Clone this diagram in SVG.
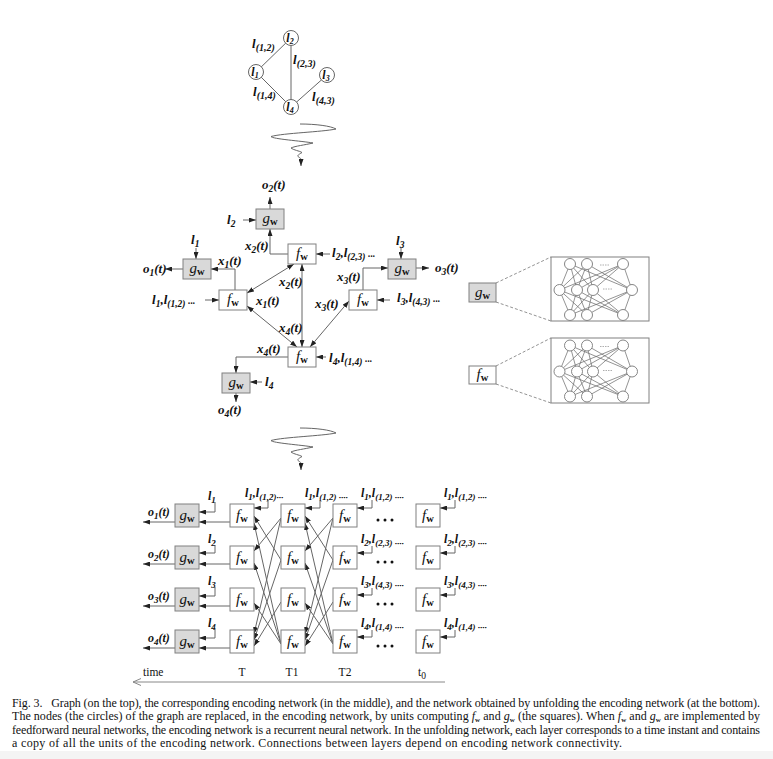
<svg xmlns="http://www.w3.org/2000/svg" width="773" height="759" viewBox="0 0 773 759">
<style>
text{font-family:"Liberation Serif","Times New Roman",serif;fill:#111}
.lb{font-size:13px;font-weight:bold;font-style:italic}
.lbs{font-size:12px;font-weight:bold;font-style:italic}
.lt{font-size:13px;font-weight:bold;font-style:italic}
.cl{font-size:12px;font-weight:bold;font-style:italic;text-anchor:middle}
.s{font-size:9.5px}
.s7{font-size:8px}
.sb{font-size:9px}
.s9{font-size:10px}
.fn{font-size:15px;font-style:italic;text-anchor:middle}
.w{font-size:10.5px;font-weight:bold;font-style:normal}
.rm{font-size:11.5px}
.cap{font-size:12px}
.cw{font-size:7px;font-weight:bold}
.box{stroke:#808080;stroke-width:1;fill:#fff}
.gbox{stroke:#808080;stroke-width:1;fill:#d9d9d9}
.circ{stroke:#666;stroke-width:1;fill:#fff}
.ln{fill:none;stroke:#666;stroke-width:1}
.ar{marker-end:url(#a)}
.dar{marker-start:url(#a);marker-end:url(#a)}
.dash{fill:none;stroke:#777;stroke-width:0.8;stroke-dasharray:3 2}
.nc{fill:#fff;stroke:#777;stroke-width:0.9}
.nl{fill:none;stroke:#666;stroke-width:0.7}
</style>
<defs>
<marker id="a" viewBox="0 0 7 5" refX="7" refY="2.5" markerWidth="7" markerHeight="5" markerUnits="userSpaceOnUse" orient="auto-start-reverse"><path d="M0,0L7,2.5L0,5z" fill="#222"/></marker>
<g id="nn">
<path class="nl" d="M19 7L8.5 33M19 7L26 33M19 7L42 33M19 7L81 33M36 7L8.5 33M36 7L26 33M36 7L42 33M36 7L81 33M72 7L8.5 33M72 7L26 33M72 7L42 33M72 7L81 33M19 58L8.5 33M19 58L26 33M19 58L42 33M19 58L81 33M36 58L8.5 33M36 58L26 33M36 58L42 33M36 58L81 33M72 58L8.5 33M72 58L26 33M72 58L42 33M72 58L81 33"/>
<circle class="nc" cx="19" cy="7" r="5.5"/><circle class="nc" cx="36" cy="7" r="5.5"/><circle class="nc" cx="72" cy="7" r="5.5"/>
<circle class="nc" cx="8.5" cy="33" r="5.5"/><circle class="nc" cx="26" cy="33" r="5.5"/><circle class="nc" cx="42" cy="33" r="5.5"/><circle class="nc" cx="81" cy="33" r="5.5"/>
<circle class="nc" cx="19" cy="58" r="5.5"/><circle class="nc" cx="36" cy="58" r="5.5"/><circle class="nc" cx="72" cy="58" r="5.5"/>
<path d="M49 8H59M52 32H62" stroke="#999" stroke-width="0.8" stroke-dasharray="1.5 1"/>
</g>
<path id="sq" d="M300,124 C316,124 331,126 336,129 C322,132 284,133 271,136.5 C272,139 302,141 313,143 C305,145 295,146 291,148 C293,150 300,151 302,152.5 C300,154 297,155 298,156.5 C300,158 302,159 301,160.5 L301,166"/>
</defs>
<rect width="773" height="759" fill="#fff"/>
<rect y="751" width="773" height="8" fill="#f4f4f4"/>

<g id="connectors">
<g id="graph-edges" class="ln">
<path d="M256,72L291,38M291,38V107M256,72L291,107M291,107L327,75"/>
</g>
<use href="#sq" class="ln ar"/>
<use href="#sq" class="ln ar" y="304"/>

<path class="ln ar" d="M270,209V197"/>
<path class="ln ar" d="M243,220H256"/>
<path class="ln ar" d="M288,254H270V229"/>
<path class="ln ar" d="M196,248V259"/>
<path class="ln ar" d="M183,269H165"/>
<path class="ln ar" d="M235,290V269H211"/>
<path class="ln ar" d="M205,300H219"/>
<path class="ln dar" d="M247,293L294,264"/>
<path class="ln dar" d="M247,306L297,347"/>
<path class="ln dar" d="M302,264V347"/>
<path class="ln dar" d="M349,301L310,347"/>
<path class="ln ar" d="M330,254H316"/>
<path class="ln ar" d="M401,247V259"/>
<path class="ln ar" d="M416,268H429"/>
<path class="ln ar" d="M363,290V268H388"/>
<path class="ln ar" d="M390,300H377"/>
<path class="ln ar" d="M288,357H236V373"/>
<path class="ln ar" d="M326,357H316"/>
<path class="ln ar" d="M262,382H250"/>
<path class="ln ar" d="M236,393V402"/>
<path class="dash" d="M496,283L551,257M496,302L551,321M496,366L551,338M496,384L551,403"/>

<g class="ln ar">
<path d="M215,502V512H199"/><path d="M215,545V553H199"/><path d="M215,587V596H199"/><path d="M215,629V638H199"/>
<path d="M230,522H199"/><path d="M230,564H199"/><path d="M230,606H199"/><path d="M230,648H199"/>
<path d="M175,522H143"/><path d="M175,564H143"/><path d="M175,606H143"/><path d="M175,648H143"/>
<path d="M268,500V508H254"/><path d="M320,500V508H305"/>
<path d="M372,500V508H357"/><path d="M372,546V553H357"/><path d="M372,588V595H357"/><path d="M372,630V637H357"/>
<path d="M455,500V508H440"/><path d="M455,546V553H440"/><path d="M455,588V595H440"/><path d="M455,630V637H440"/>
<path d="M281,560L254,516"/><path d="M281,644L254,523"/><path d="M281,518L254,551"/><path d="M281,644L254,563"/>
<path d="M281,644L254,603"/><path d="M281,518L254,634"/><path d="M281,560L254,640"/><path d="M281,602L254,646"/>
<path d="M333,560L305,516"/><path d="M333,644L305,523"/><path d="M333,518L305,551"/><path d="M333,644L305,563"/>
<path d="M333,644L305,603"/><path d="M333,518L305,634"/><path d="M333,560L305,640"/><path d="M333,602L305,646"/>
</g>
<path d="M133,682H445M141,678.5L133,682L141,685.5" fill="none" stroke="#888" stroke-width="1"/>
</g>

<g id="n1"><circle class="circ" cx="256" cy="72" r="7.5"/><text class="cl" x="255" y="76">l<tspan class="s7" dy="2">1</tspan></text></g>
<g id="n2"><circle class="circ" cx="291" cy="38" r="7.5"/><text class="cl" x="290" y="42">l<tspan class="s7" dy="2">2</tspan></text></g>
<g id="n3"><circle class="circ" cx="327" cy="75" r="7.5"/><text class="cl" x="326" y="79">l<tspan class="s7" dy="2">3</tspan></text></g>
<g id="n4"><circle class="circ" cx="291" cy="107" r="7.5"/><text class="cl" x="290" y="111">l<tspan class="s7" dy="2">4</tspan></text></g>
<g id="graph-labels">
<text class="lt" x="252" y="48">l<tspan class="s9" dy="3">(1,2)</tspan></text>
<text class="lt" x="293" y="64">l<tspan class="s9" dy="3">(2,3)</tspan></text>
<text class="lt" x="253" y="96">l<tspan class="s9" dy="3">(1,4)</tspan></text>
<text class="lt" x="312" y="101">l<tspan class="s9" dy="3">(4,3)</tspan></text>
</g>

<g id="gw2"><rect class="gbox" x="256" y="209" width="28" height="20"/><text class="fn" x="270" y="223">g<tspan class="w" dy="2">w</tspan></text></g>
<g id="fw2"><rect class="box" x="288" y="244" width="28" height="20"/><text class="fn" x="302" y="258">f<tspan class="w" dy="2">w</tspan></text></g>
<g id="gw1"><rect class="gbox" x="183" y="259" width="28" height="20"/><text class="fn" x="197" y="273">g<tspan class="w" dy="2">w</tspan></text></g>
<g id="fw1"><rect class="box" x="219" y="290" width="28" height="20"/><text class="fn" x="233" y="304">f<tspan class="w" dy="2">w</tspan></text></g>
<g id="gw3"><rect class="gbox" x="388" y="259" width="28" height="20"/><text class="fn" x="402" y="273">g<tspan class="w" dy="2">w</tspan></text></g>
<g id="fw3"><rect class="box" x="349" y="290" width="28" height="20"/><text class="fn" x="363" y="304">f<tspan class="w" dy="2">w</tspan></text></g>
<g id="fw4"><rect class="box" x="288" y="347" width="28" height="20"/><text class="fn" x="302" y="361">f<tspan class="w" dy="2">w</tspan></text></g>
<g id="gw4"><rect class="gbox" x="222" y="373" width="28" height="20"/><text class="fn" x="236" y="387">g<tspan class="w" dy="2">w</tspan></text></g>
<g id="enc-labels">
<text class="lb" x="262" y="189">o<tspan class="s" dy="3">2</tspan><tspan dy="-3">(t)</tspan></text>
<text class="lb" x="227" y="224">l<tspan class="s" dy="3">2</tspan></text>
<text class="lb" x="245" y="250">x<tspan class="s" dy="3">2</tspan><tspan dy="-3">(t)</tspan></text>
<text class="lb" x="191" y="244">l<tspan class="s" dy="3">1</tspan></text>
<text class="lb" x="143" y="273">o<tspan class="s" dy="3">1</tspan><tspan dy="-3">(t)</tspan></text>
<text class="lb" x="218" y="265">x<tspan class="s" dy="3">1</tspan><tspan dy="-3">(t)</tspan></text>
<text class="lb" x="152" y="304">l<tspan class="s" dy="3">1</tspan><tspan dy="-3">,l</tspan><tspan class="s" dy="3">(1,2) ···</tspan></text>
<text class="lb" x="256" y="305">x<tspan class="s" dy="3">1</tspan><tspan dy="-3">(t)</tspan></text>
<text class="lb" x="279" y="286">x<tspan class="s" dy="3">2</tspan><tspan dy="-3">(t)</tspan></text>
<text class="lb" x="279" y="332">x<tspan class="s" dy="3">4</tspan><tspan dy="-3">(t)</tspan></text>
<text class="lb" x="315" y="308">x<tspan class="s" dy="3">3</tspan><tspan dy="-3">(t)</tspan></text>
<text class="lb" x="332" y="257">l<tspan class="s" dy="3">2</tspan><tspan dy="-3">,l</tspan><tspan class="s" dy="3">(2,3) ···</tspan></text>
<text class="lb" x="396" y="245">l<tspan class="s" dy="3">3</tspan></text>
<text class="lb" x="435" y="272">o<tspan class="s" dy="3">3</tspan><tspan dy="-3">(t)</tspan></text>
<text class="lb" x="337" y="281">x<tspan class="s" dy="3">3</tspan><tspan dy="-3">(t)</tspan></text>
<text class="lb" x="397" y="302">l<tspan class="s" dy="3">3</tspan><tspan dy="-3">,l</tspan><tspan class="s" dy="3">(4,3) ···</tspan></text>
<text class="lb" x="257" y="353">x<tspan class="s" dy="3">4</tspan><tspan dy="-3">(t)</tspan></text>
<text class="lb" x="329" y="362">l<tspan class="s" dy="3">4</tspan><tspan dy="-3">,l</tspan><tspan class="s" dy="3">(1,4) ···</tspan></text>
<text class="lb" x="265" y="386">l<tspan class="s" dy="3">4</tspan></text>
<text class="lb" x="218" y="414">o<tspan class="s" dy="3">4</tspan><tspan dy="-3">(t)</tspan></text>
</g>

<g id="gw-unit"><rect class="gbox" x="469" y="283" width="27" height="19"/><text class="fn" x="482.5" y="296.5">g<tspan class="w" dy="2">w</tspan></text></g>
<g id="fw-unit"><rect class="box" x="469" y="366" width="27" height="18"/><text class="fn" x="482.5" y="379">f<tspan class="w" dy="2">w</tspan></text></g>
<g id="gw-net"><rect class="box" x="551" y="257" width="98" height="64"/><use href="#nn" x="551" y="257"/></g>
<g id="fw-net"><rect class="box" x="551" y="338" width="98" height="65"/><use href="#nn" x="551" y="338.5"/></g>

<g id="gw-col">
<rect class="gbox" x="175" y="504" width="24" height="23"/><text class="fn" x="187" y="520">g<tspan class="w" dy="2">w</tspan></text>
<rect class="gbox" x="175" y="546" width="24" height="23"/><text class="fn" x="187" y="562">g<tspan class="w" dy="2">w</tspan></text>
<rect class="gbox" x="175" y="588" width="24" height="23"/><text class="fn" x="187" y="604">g<tspan class="w" dy="2">w</tspan></text>
<rect class="gbox" x="175" y="630" width="24" height="23"/><text class="fn" x="187" y="646">g<tspan class="w" dy="2">w</tspan></text>
</g>
<g id="col-T">
<rect class="box" x="230" y="504" width="24" height="23"/><text class="fn" x="242" y="520">f<tspan class="w" dy="2">w</tspan></text>
<rect class="box" x="230" y="546" width="24" height="23"/><text class="fn" x="242" y="562">f<tspan class="w" dy="2">w</tspan></text>
<rect class="box" x="230" y="588" width="24" height="23"/><text class="fn" x="242" y="604">f<tspan class="w" dy="2">w</tspan></text>
<rect class="box" x="230" y="630" width="24" height="23"/><text class="fn" x="242" y="646">f<tspan class="w" dy="2">w</tspan></text>
</g>
<g id="col-T1">
<rect class="box" x="281" y="504" width="24" height="23"/><text class="fn" x="293" y="520">f<tspan class="w" dy="2">w</tspan></text>
<rect class="box" x="281" y="546" width="24" height="23"/><text class="fn" x="293" y="562">f<tspan class="w" dy="2">w</tspan></text>
<rect class="box" x="281" y="588" width="24" height="23"/><text class="fn" x="293" y="604">f<tspan class="w" dy="2">w</tspan></text>
<rect class="box" x="281" y="630" width="24" height="23"/><text class="fn" x="293" y="646">f<tspan class="w" dy="2">w</tspan></text>
</g>
<g id="col-T2">
<rect class="box" x="333" y="504" width="24" height="23"/><text class="fn" x="345" y="520">f<tspan class="w" dy="2">w</tspan></text>
<rect class="box" x="333" y="546" width="24" height="23"/><text class="fn" x="345" y="562">f<tspan class="w" dy="2">w</tspan></text>
<rect class="box" x="333" y="588" width="24" height="23"/><text class="fn" x="345" y="604">f<tspan class="w" dy="2">w</tspan></text>
<rect class="box" x="333" y="630" width="24" height="23"/><text class="fn" x="345" y="646">f<tspan class="w" dy="2">w</tspan></text>
</g>
<g id="col-t0">
<rect class="box" x="416" y="504" width="24" height="23"/><text class="fn" x="428" y="520">f<tspan class="w" dy="2">w</tspan></text>
<rect class="box" x="416" y="546" width="24" height="23"/><text class="fn" x="428" y="562">f<tspan class="w" dy="2">w</tspan></text>
<rect class="box" x="416" y="588" width="24" height="23"/><text class="fn" x="428" y="604">f<tspan class="w" dy="2">w</tspan></text>
<rect class="box" x="416" y="630" width="24" height="23"/><text class="fn" x="428" y="646">f<tspan class="w" dy="2">w</tspan></text>
</g>
<g id="dots" fill="#111">
<circle cx="378" cy="520" r="1.5"/><circle cx="385" cy="520" r="1.5"/><circle cx="392" cy="520" r="1.5"/>
<circle cx="378" cy="562" r="1.5"/><circle cx="385" cy="562" r="1.5"/><circle cx="392" cy="562" r="1.5"/>
<circle cx="378" cy="604" r="1.5"/><circle cx="385" cy="604" r="1.5"/><circle cx="392" cy="604" r="1.5"/>
<circle cx="378" cy="646" r="1.5"/><circle cx="385" cy="646" r="1.5"/><circle cx="392" cy="646" r="1.5"/>
</g>
<g id="unfold-labels">
<text class="lbs" x="208" y="500">l<tspan class="sb" dy="3">1</tspan></text>
<text class="lbs" x="208" y="543">l<tspan class="sb" dy="3">2</tspan></text>
<text class="lbs" x="208" y="585">l<tspan class="sb" dy="3">3</tspan></text>
<text class="lbs" x="208" y="627">l<tspan class="sb" dy="3">4</tspan></text>
<text class="lbs" x="148" y="516">o<tspan class="sb" dy="3">1</tspan><tspan dy="-3">(t)</tspan></text>
<text class="lbs" x="148" y="558">o<tspan class="sb" dy="3">2</tspan><tspan dy="-3">(t)</tspan></text>
<text class="lbs" x="148" y="600">o<tspan class="sb" dy="3">3</tspan><tspan dy="-3">(t)</tspan></text>
<text class="lbs" x="148" y="642">o<tspan class="sb" dy="3">4</tspan><tspan dy="-3">(t)</tspan></text>
<text class="lbs" x="245" y="497">l<tspan class="sb" dy="3">1</tspan><tspan dy="-3">,l</tspan><tspan class="sb" dy="3">(1,2)···</tspan></text>
<text class="lbs" x="305" y="497">l<tspan class="sb" dy="3">1</tspan><tspan dy="-3">,l</tspan><tspan class="sb" dy="3">(1,2) ····</tspan></text>
<text class="lbs" x="361" y="497">l<tspan class="sb" dy="3">1</tspan><tspan dy="-3">,l</tspan><tspan class="sb" dy="3">(1,2) ····</tspan></text>
<text class="lbs" x="361" y="543">l<tspan class="sb" dy="3">2</tspan><tspan dy="-3">,l</tspan><tspan class="sb" dy="3">(2,3) ····</tspan></text>
<text class="lbs" x="361" y="585">l<tspan class="sb" dy="3">3</tspan><tspan dy="-3">,l</tspan><tspan class="sb" dy="3">(4,3) ····</tspan></text>
<text class="lbs" x="361" y="627">l<tspan class="sb" dy="3">4</tspan><tspan dy="-3">,l</tspan><tspan class="sb" dy="3">(1,4) ····</tspan></text>
<text class="lbs" x="444" y="497">l<tspan class="sb" dy="3">1</tspan><tspan dy="-3">,l</tspan><tspan class="sb" dy="3">(1,2) ····</tspan></text>
<text class="lbs" x="444" y="543">l<tspan class="sb" dy="3">2</tspan><tspan dy="-3">,l</tspan><tspan class="sb" dy="3">(2,3) ····</tspan></text>
<text class="lbs" x="444" y="585">l<tspan class="sb" dy="3">3</tspan><tspan dy="-3">,l</tspan><tspan class="sb" dy="3">(4,3) ····</tspan></text>
<text class="lbs" x="444" y="627">l<tspan class="sb" dy="3">4</tspan><tspan dy="-3">,l</tspan><tspan class="sb" dy="3">(1,4) ····</tspan></text>
<text class="rm" x="143" y="676">time</text>
<text class="rm" x="242" y="676" text-anchor="middle">T</text>
<text class="rm" x="292" y="676" text-anchor="middle">T1</text>
<text class="rm" x="345" y="676" text-anchor="middle">T2</text>
<text class="rm" x="418" y="676">t<tspan class="s" dy="3">0</tspan></text>
</g>

<g id="caption">
<text class="cap" x="12" y="707" textLength="748" lengthAdjust="spacing" style="white-space:pre">Fig. 3.   Graph (on the top), the corresponding encoding network (in the middle), and the network obtained by unfolding the encoding network (at the bottom).</text>
<text class="cap" x="12" y="720" textLength="748" lengthAdjust="spacing">The nodes (the circles) of the graph are replaced, in the encoding network, by units computing <tspan font-style="italic">f</tspan><tspan class="cw" dy="1.5">w</tspan><tspan dy="-1.5"> and </tspan><tspan font-style="italic">g</tspan><tspan class="cw" dy="1.5">w</tspan><tspan dy="-1.5"> (the squares). When </tspan><tspan font-style="italic">f</tspan><tspan class="cw" dy="1.5">w</tspan><tspan dy="-1.5"> and </tspan><tspan font-style="italic">g</tspan><tspan class="cw" dy="1.5">w</tspan><tspan dy="-1.5"> are implemented by</tspan></text>
<text class="cap" x="12" y="733.5" textLength="748" lengthAdjust="spacing">feedforward neural networks, the encoding network is a recurrent neural network. In the unfolding network, each layer corresponds to a time instant and contains</text>
<text class="cap" x="12" y="746.5" textLength="610" lengthAdjust="spacing">a copy of all the units of the encoding network. Connections between layers depend on encoding network connectivity.</text>
</g>
</svg>
